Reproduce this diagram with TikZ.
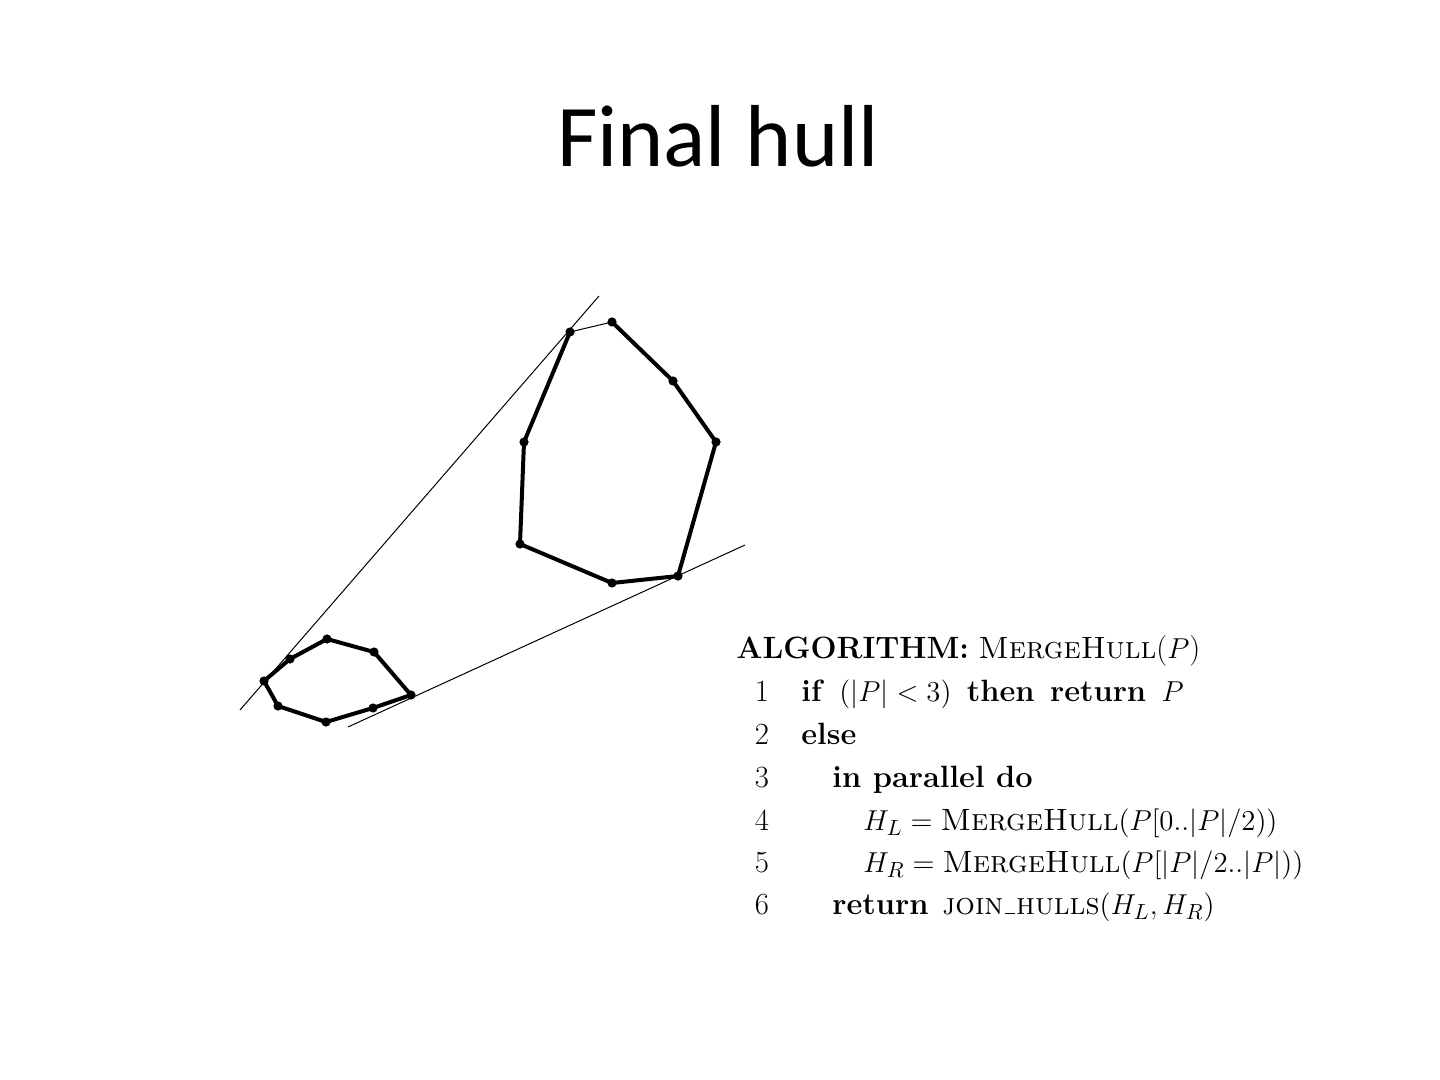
\documentclass[tikz,border=0pt]{standalone}
\usepackage{fontspec}
\newfontfamily\titlefont{Carlito}
\newcommand{\myus}{\kern.06em\vbox{\hrule width.32em height .45pt}\kern.04em}
\begin{document}
\begin{tikzpicture}[x=0.5pt,y=-0.5pt,
  hulledge/.style={line width=2pt,line join=round,line cap=round},
  thinedge/.style={line width=0.5pt},
  tangent/.style={line width=0.5pt},
  vtx/.style={circle,fill=black,inner sep=0pt,minimum size=4.6pt},
  algline/.style={anchor=base west,inner sep=0pt,font=\fontsize{15.4}{18}\selectfont},
  algnum/.style={anchor=base east,inner sep=0pt,font=\fontsize{15.4}{18}\selectfont}]
\useasboundingbox (0,0) rectangle (1440,1080);
\node[anchor=base,inner sep=0pt,font=\titlefont\fontsize{44}{52}\selectfont] (title) at (718,167) {Final hull};

% left hull vertices
\node[vtx] (a) at (290,659) {};
\node[vtx] (b) at (327,639) {};
\node[vtx] (c) at (374,652) {};
\node[vtx] (d) at (411,695) {};
\node[vtx] (e) at (373,708) {};
\node[vtx] (f) at (326,722) {};
\node[vtx] (g) at (278,706) {};
\node[vtx] (h) at (264,681) {};
% right hull vertices
\node[vtx] (A) at (570,332) {};
\node[vtx] (B) at (612,322) {};
\node[vtx] (C) at (673,381) {};
\node[vtx] (D) at (716,442) {};
\node[vtx] (E) at (678,576) {};
\node[vtx] (F) at (612,583) {};
\node[vtx] (G) at (520,544) {};
\node[vtx] (H) at (524,442) {};

% tangent line ends
\coordinate (t1s) at (240,710);
\coordinate (t1e) at (599,296);
\coordinate (t2s) at (348,727);
\coordinate (t2e) at (745,545);
\draw[tangent] (t1s) -- (t1e);
\draw[tangent] (t2s) -- (t2e);

\draw[hulledge] (a.center) -- (b.center) -- (c.center) -- (d.center) -- (e.center) -- (f.center) -- (g.center) -- (h.center) -- cycle;
\draw[thinedge] (A.center) -- (B.center);
\draw[hulledge] (B.center) -- (C.center) -- (D.center) -- (E.center) -- (F.center) -- (G.center) -- (H.center) -- (A.center);

% algorithm
\node[algline] (l0) at (736,658) {\textbf{ALGORITHM:} \textsc{MergeHull}($P$)};
\node[algnum] (n1) at (769.5,701) {1};
\node[algline] (l1) at (801,701) {\textbf{if}\hspace{0.5em}$(|P|<3)$\hspace{0.5em}\textbf{then}\hspace{0.5em}\textbf{return}\hspace{0.5em}$P$};
\node[algnum] (n2) at (769.5,744) {2};
\node[algline] (l2) at (801,744) {\textbf{else}};
\node[algnum] (n3) at (769.5,787) {3};
\node[algline] (l3) at (832,787) {\textbf{in parallel do}};
\node[algnum] (n4) at (769.5,830) {4};
\node[algline] (l4) at (863,830) {$H_L = \textrm{\textsc{MergeHull}}(P[0..|P|/2))$};
\node[algnum] (n5) at (769.5,872) {5};
\node[algline] (l5) at (863,872) {$H_R = \textrm{\textsc{MergeHull}}(P[|P|/2..|P|))$};
\node[algnum] (n6) at (769.5,914) {6};
\node[algline] (l6) at (832,914) {\textbf{return}\hspace{0.45em}\textsc{join\myus hulls}$(H_L,H_R)$};
\end{tikzpicture}
\end{document}
